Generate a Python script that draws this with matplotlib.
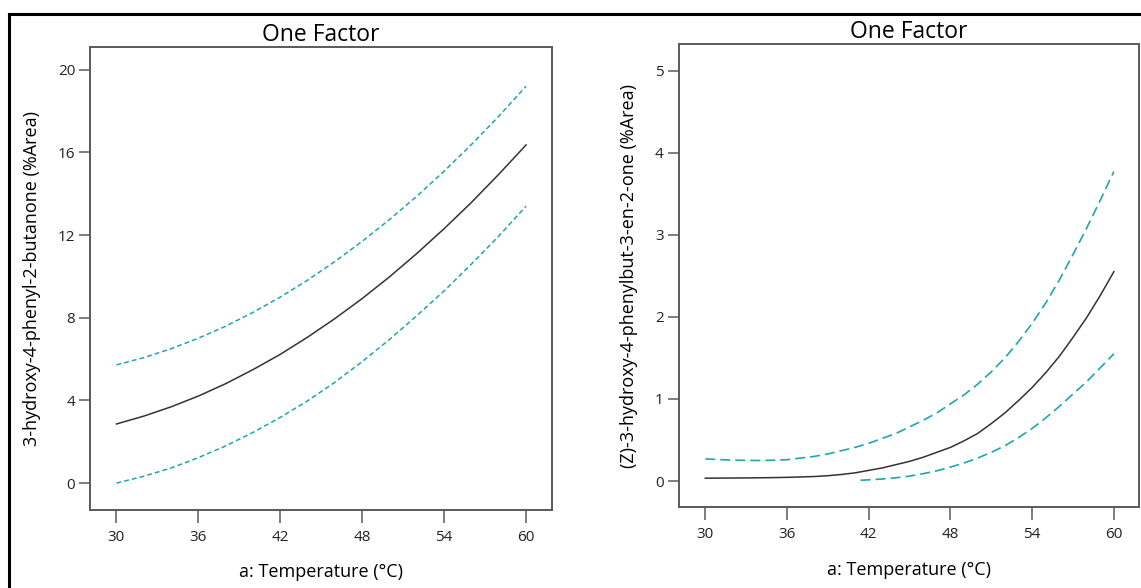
import matplotlib.pyplot as plt
from matplotlib.lines import Line2D

plt.rcParams['font.family'] = ['Open Sans', 'DejaVu Sans']

# 数据
temp = [30, 32, 34, 36, 38, 40, 42, 44, 46, 48, 50, 52, 54, 56, 58, 60]

butanone_pred = [2.86, 3.24, 3.69, 4.21, 4.81, 5.49, 6.23, 7.06, 7.96, 8.93,
                 9.98, 11.11, 12.31, 13.58, 14.94, 16.36]
butanone_high = [5.72, 6.07, 6.50, 7.01, 7.59, 8.26, 9.00, 9.82, 10.72, 11.70,
                 12.75, 13.88, 15.09, 16.38, 17.75, 19.20]
butanone_low = [0.0, 0.33, 0.73, 1.23, 1.80, 2.45, 3.18, 3.98, 4.88, 5.88,
                6.95, 8.10, 9.30, 10.60, 11.95, 13.40]

# 右图 (每 1 °C 读一个点)
temp_r = list(range(30, 61))
enone_pred = [0.035, 0.036, 0.037, 0.038, 0.040, 0.042, 0.045, 0.050, 0.055, 0.065,
              0.08, 0.10, 0.13, 0.16, 0.20, 0.24, 0.29, 0.35, 0.41, 0.49,
              0.58, 0.70, 0.83, 0.98, 1.14, 1.32, 1.52, 1.75, 1.99, 2.26, 2.55]
enone_high = [0.27, 0.262, 0.255, 0.252, 0.25, 0.254, 0.26, 0.28, 0.30, 0.33,
              0.37, 0.41, 0.46, 0.52, 0.58, 0.66, 0.74, 0.83, 0.94, 1.05,
              1.18, 1.33, 1.50, 1.70, 1.92, 2.17, 2.45, 2.76, 3.08, 3.42, 3.77]
temp_low = [41.4, 42, 43, 44, 45, 46, 47, 48, 49, 50, 51, 52, 53, 54, 55, 56, 57, 58, 59, 60]
enone_low = [0.01, 0.015, 0.025, 0.04, 0.06, 0.09, 0.125, 0.17, 0.22, 0.28,
             0.35, 0.43, 0.53, 0.64, 0.77, 0.91, 1.06, 1.21, 1.38, 1.55]

x_ticks = [30, 36, 42, 48, 54, 60]
left_yticks = [0, 4, 8, 12, 16, 20]
right_yticks = [0, 1, 2, 3, 4, 5]

teal = '#1fa5b3'
spine_gray = '#5a5a5a'

fig = plt.figure(figsize=(11.41, 5.88), dpi=100)
ax1 = fig.add_axes([0.0793, 0.1327, 0.4045, 0.7874])
ax2 = fig.add_axes([0.5951, 0.1372, 0.4032, 0.7875])

# 外框线
fig.add_artist(Line2D([0.0079, 1.0], [0.976, 0.976], color='black', lw=2.2))
fig.add_artist(Line2D([0.0079, 0.0079], [0.0, 0.976], color='black', lw=2.2))


def style(ax, ylabel, yticks, ylim, pad_y):
  ax.set_xlim(28.1, 61.9)
  ax.set_ylim(*ylim)
  ax.set_xticks(x_ticks)
  ax.set_yticks(yticks)
  for s in ax.spines.values():
    s.set_color(spine_gray)
    s.set_linewidth(1.4)
  ax.tick_params(axis='x', direction='out', length=9.5, width=1.1,
                 color=spine_gray, labelsize=11, pad=5, labelcolor='#222222')
  ax.tick_params(axis='y', direction='out', length=8, width=1.1,
                 color=spine_gray, labelsize=11, pad=3, labelcolor='#222222')
  ax.set_title('One Factor', fontsize=16.5, pad=4)
  ax.set_xlabel('a: Temperature (°C)', fontsize=13, labelpad=13)
  ax.set_ylabel(ylabel, fontsize=13, labelpad=pad_y)


# 左图
ax1.plot(temp, butanone_pred, color='#333333', lw=1.1)
ax1.plot(temp, butanone_high, color=teal, lw=1.1, dashes=(3.2, 2.0))
ax1.plot(temp, butanone_low, color=teal, lw=1.1, dashes=(3.2, 2.0))
style(ax1, '3-hydroxy-4-phenyl-2-butanone (%Area)', left_yticks, (-1.3, 21.1), 12)

# 右图
ax2.plot(temp_r, enone_pred, color='#333333', lw=1.1)
ax2.plot(temp_r, enone_high, color=teal, lw=1.2, dashes=(6, 3))
ax2.plot(temp_low, enone_low, color=teal, lw=1.2, dashes=(6, 3))
style(ax2, '(Z)-3-hydroxy-4-phenylbut-3-en-2-one (%Area)', right_yticks, (-0.32, 5.32), 12)
ax2.set_xlim(28.07, 61.85)

fig.savefig('out.png', dpi=100)
